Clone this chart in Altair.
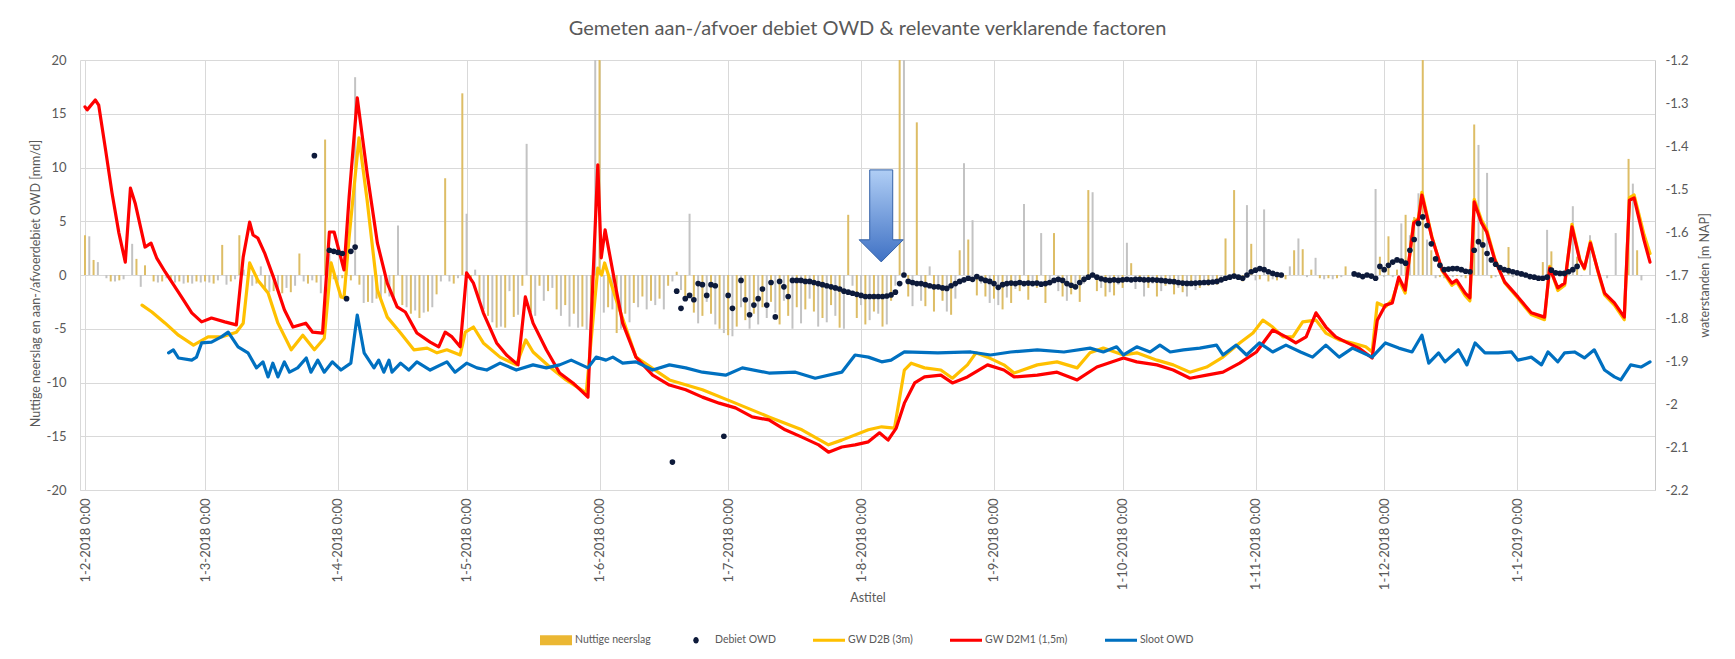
import altair as alt
import pandas as pd

TITLE = "Gemeten aan-/afvoer debiet OWD & relevante verklarende factoren"
LEFT_TITLE = "Nuttige neerslag en aan-/afvoerdebiet OWD [mm/d]"
RIGHT_TITLE = "waterstanden [m NAP]"
X_TITLE = "Astitel"
SERIES = ["Nuttige neerslag", "Debiet OWD", "GW D2B (3m)", "GW D2M1 (1,5m)", "Sloot OWD"]
START = "2018-02-01"

# Nuttige neerslag [mm/d], one value per day, per month (Feb 2018 .. Jan 2019)
FEB = [3.7, 3.6, 1.4, 1.2, 0.0, -0.3, -0.6, -0.6, -0.5, -0.4, 0.0, 2.9, 1.5, -1.1, 0.9, 0.0, -0.6, -0.7, -0.6, -0.3,
       -0.5, -0.7, -0.6, -0.8, -0.7, -0.8, -0.6, -0.7]
MAR = [-0.6, -0.7, -0.8, -0.5, 2.8, -0.9, -0.6, -0.4, 3.7, 0.5, -0.6, -1.0, -0.8, 0.8, -1.2, -1.6, -1.5, -1.4, -1.7, -1.2,
       -1.6, -1.0, 2.0, -0.6, -0.8, -0.5, -0.7, -1.7, 12.6, 2.0, -0.4]
APR = [-0.5, -0.3, 0.4, -0.5, 18.4, -0.9, -2.6, -2.5, -2.6, -2.2, -2.3, -1.7, -2.0, -2.4, 4.6, -2.8, -3.0, -3.6, -3.3, -4.0,
       -3.5, -3.4, -3.0, -1.8, -0.6, 9.0, -0.6, -0.8, -0.3, 16.9]
MAY = [5.7, -0.4, 0.5, -2.6, -3.2, -3.8, -4.4, -4.9, -4.8, -4.9, -1.5, -3.9, -3.7, -1.0, 12.2, -3.5, -3.8, -1.0, -2.4, -1.5,
       -1.2, -3.2, -3.8, -2.8, -4.8, -3.6, -4.9, -4.8, -5.1, -3.5, 25.0]
JUN = [25.0, -3.5, -3.0, -3.2, -5.4, -5.0, -3.6, -4.4, -2.6, -3.0, -2.0, -3.2, -2.4, -2.8, -2.2, -3.2, -1.0, -0.6, 0.3, -1.4,
       -2.0, 5.7, -3.5, -4.5, -3.8, -2.5, -3.6, -4.6, -5.0, -5.4]
JUL = [-5.6, -5.7, -4.8, -3.0, -4.2, -5.0, -3.6, -4.6, -3.0, -4.0, -2.5, -3.5, -4.6, -2.4, -3.8, -5.0, -3.0, -4.5, -3.2, -2.2,
       -3.4, -4.8, -4.0, -4.4, -2.8, -3.8, -4.9, -5.0, 5.6, -1.0, -4.0]
AUG = [-2.8, -4.6, -4.2, -3.4, -3.6, -4.8, -4.6, -2.4, -1.0, 25.0, 25.0, -2.0, -2.9, 14.2, -2.4, -2.9, 0.8, -3.4, -1.2, -2.4,
       -3.4, -3.7, -2.2, 2.3, 10.4, 3.3, 5.1, -1.9, -0.8, -2.0, -2.6]
SEP = [-2.2, -2.8, -3.2, -2.1, -2.6, -1.3, -1.5, 6.6, -2.3, -0.8, -1.2, 3.9, -2.6, -1.0, 3.9, -1.5, -2.0, -2.4, -1.8, -1.2,
       -2.5, -0.8, 7.9, 7.7, -1.5, -1.2, -2.0, -1.6, -1.9, -0.9]
OCT = [-1.2, 3.0, 1.1, -1.3, -0.6, -2.0, -1.2, -0.8, -2.0, -1.5, -1.0, -0.8, -1.8, -1.2, -1.6, -2.0, -1.0, -1.4, -1.2, -0.8,
       -1.0, -0.6, -0.9, -0.5, 3.4, -0.3, 7.9, -0.4, -0.6, 6.5, 2.9]
NOV = [-0.5, -0.4, 6.1, -0.6, -0.4, -0.5, -0.3, -0.4, 0.8, 2.3, 3.4, 2.4, -0.2, 0.5, 1.6, -0.3, -0.4, -0.3, -0.4, -0.3,
       -0.2, 0.8, 0.0, -0.1, 0.0, 0.0, 0.0, -0.1, 8.0, 1.7]
DEC = [-0.2, 3.6, -0.2, 0.5, 4.8, 5.6, 3.7, 5.4, 7.6, 25.0, 3.3, 2.3, -0.3, -0.2, -0.3, 0.0, -0.2, -0.1, -0.2, -0.3,
       0.0, 14.0, 12.1, 4.8, 9.5, -0.3, -0.2, 0.0, -0.1, 2.6, -0.2]
JAN = [0.0, -0.1, 0.0, -0.2, 0.0, 0.0, 1.2, 4.2, 2.2, 0.0, -0.1, 0.0, 0.0, 6.4, 1.7, -0.1, 0.0, 3.7, 0.0, 0.0,
       0.0, -0.3, 0.0, 3.9, 0.0, 0.0, 10.8, 8.5, 2.3, -0.5, 0.0]

# Debiet OWD [mm/d]: (day since 1-2-2018, value)
DEBIET = [(53.5, 11.1), (57, 2.3), (58, 2.2), (59, 2.1), (60, 2.0), (61, -2.2), (62, 2.2), (63, 2.6),
          (137, -17.4), (138, -1.5), (139, -3.1), (140, -2.2), (141, -1.9), (142, -2.3), (143, -0.8), (144, -0.9),
          (145, -1.9), (146, -0.9), (147, -1.0), (149, -15.0), (150, -1.9), (151, -3.1), (153, -0.5), (154, -2.3),
          (155, -3.7), (156, -2.8), (157, -2.2), (158, -1.3), (159, -2.8), (160, -0.7), (161, -3.9), (162, -0.6),
          (163, -1.1), (164, -2.0), (165, -0.5), (166, -0.5), (167, -0.5), (168, -0.6), (169, -0.6), (170, -0.7),
          (171, -0.8), (172, -0.9), (173, -1.0), (174, -1.1), (175, -1.2), (176, -1.3), (177, -1.5), (178, -1.6),
          (179, -1.7), (180, -1.8), (181, -1.9), (182, -2.0), (183, -2.0), (184, -2.0), (185, -2.0), (186, -2.0),
          (187, -1.95), (188, -1.85), (189, -1.6), (190, -0.8), (191, 0.0), (192, -0.6), (193, -0.7), (194, -0.8),
          (195, -0.8), (196, -0.9), (197, -1.0), (198, -1.1), (199, -1.1), (200, -1.2), (201, -1.25), (202, -1.0),
          (203, -0.8), (204, -0.6), (205, -0.45), (206, -0.3), (207, -0.4), (208, -0.15), (209, -0.35), (210, -0.5),
          (211, -0.6), (212, -0.8), (213, -1.15), (214, -0.9), (215, -0.8), (216, -0.75), (217, -0.8), (218, -0.7),
          (219, -0.8), (220, -0.75), (221, -0.8), (222, -0.75), (223, -0.85), (224, -0.8), (225, -0.7), (226, -0.5),
          (227, -0.4), (228, -0.5), (229, -0.8), (230, -0.95), (231, -1.1), (232, -0.7), (233, -0.4), (234, -0.2),
          (235, 0.0), (236, -0.2), (237, -0.35), (238, -0.45), (239, -0.5), (240, -0.45), (241, -0.5), (242, -0.45),
          (243, -0.4), (244, -0.45), (245, -0.4), (246, -0.4), (247, -0.45), (248, -0.45), (249, -0.45), (250, -0.47),
          (251, -0.5), (252, -0.55), (253, -0.6), (254, -0.62), (255, -0.7), (256, -0.75), (257, -0.78), (258, -0.78),
          (259, -0.75), (260, -0.72), (261, -0.7), (262, -0.68), (263, -0.65), (264, -0.6), (265, -0.45), (266, -0.3),
          (267, -0.2), (268, -0.1), (269, -0.2), (270, -0.3), (271, 0.0), (272, 0.3), (273, 0.45), (274, 0.6),
          (275, 0.5), (276, 0.3), (277, 0.15), (278, 0.05), (279, 0.0),
          (296, 0.1), (297, 0.0), (298, -0.15), (299, 0.0), (300, -0.1), (301, -0.3), (302, 0.8), (303, 0.5),
          (304, 0.9), (305, 1.2), (306, 1.4), (307, 1.3), (308, 1.1), (309, 2.3), (310, 3.3), (311, 4.8), (312, 5.4),
          (313, 4.6), (314, 2.9), (315, 1.5), (316, 0.9), (317, 0.5), (318, 0.55), (319, 0.6), (320, 0.6), (321, 0.5),
          (322, 0.35), (323, 0.3), (324, 2.3), (325, 3.1), (326, 2.8), (327, 2.0), (328, 1.4), (329, 1.0), (330, 0.7),
          (331, 0.5), (332, 0.4), (333, 0.3), (334, 0.2), (335, 0.1), (336, 0.0), (337, -0.15), (338, -0.2),
          (339, -0.3), (340, -0.3), (341, -0.2), (342, 0.45), (343, 0.2), (344, 0.15), (345, 0.15), (346, 0.3),
          (347, 0.5), (348, 0.8)]

# Groundwater / ditch levels [m NAP]: (day since 1-2-2018, value)
GW_D2M1 = [(0, -1.309), (0.5, -1.316), (2.4, -1.293), (3.2, -1.305), (4.8, -1.409), (6.3, -1.509), (7.9, -1.602),
           (9.4, -1.670), (10.6, -1.498), (11.7, -1.533), (14.0, -1.635), (15.4, -1.626), (16.7, -1.660),
           (18.7, -1.693), (22.5, -1.751), (24.9, -1.788), (27.2, -1.809), (29.5, -1.800), (32.6, -1.809),
           (35.3, -1.816), (36.9, -1.658), (38.4, -1.577), (39.2, -1.607), (40.3, -1.614), (41.9, -1.649),
           (44.2, -1.712), (46.5, -1.781), (48.5, -1.821), (51.5, -1.812), (53.1, -1.833), (55.4, -1.835),
           (57.0, -1.600), (58.1, -1.600), (60.4, -1.688), (61.6, -1.519), (63.5, -1.288), (65.8, -1.463),
           (68.2, -1.626), (70.5, -1.719), (72.8, -1.774), (74.7, -1.786), (77.4, -1.835), (80.5, -1.856),
           (82.5, -1.867), (84.0, -1.833), (85.6, -1.844), (87.5, -1.867), (89.0, -1.695), (90.6, -1.719),
           (92.9, -1.788), (96.0, -1.858), (98.3, -1.886), (101.0, -1.909), (102.7, -1.751), (104.5, -1.812),
           (107.6, -1.874), (110.7, -1.928), (113.8, -1.951), (117.3, -1.984), (119.6, -1.444), (120.4, -1.660),
           (121.3, -1.595), (123.9, -1.735), (125.4, -1.812), (128.5, -1.891), (132.4, -1.933), (136.3, -1.956),
           (140.1, -1.967), (144.0, -1.984), (147.9, -1.998), (151.7, -2.009), (155.6, -2.030), (159.5, -2.037),
           (163.3, -2.060), (167.2, -2.077), (171.1, -2.095), (173.4, -2.112), (176.5, -2.100), (179.6, -2.095),
           (182.7, -2.088), (185.3, -2.067), (187.3, -2.084), (189.2, -2.056), (191.1, -1.998), (193.5, -1.951),
           (195.8, -1.937), (199.6, -1.933), (202.3, -1.951), (205.8, -1.937), (210.5, -1.909), (214.3, -1.921),
           (216.7, -1.937), (222.1, -1.933), (226.7, -1.926), (231.4, -1.944), (236.0, -1.914), (242.2, -1.893),
           (245.3, -1.902), (250.0, -1.909), (253.8, -1.921), (257.7, -1.940), (261.6, -1.933), (265.4, -1.926),
           (269.3, -1.905), (273.2, -1.879), (277.0, -1.828), (280.1, -1.844), (282.4, -1.858), (284.8, -1.844),
           (287.1, -1.788), (289.4, -1.821), (291.7, -1.844), (294.1, -1.856), (297.1, -1.870), (300.2, -1.893),
           (301.4, -1.805), (303.3, -1.770), (304.9, -1.765), (306.4, -1.705), (307.9, -1.735), (309.9, -1.579),
           (311.0, -1.572), (311.8, -1.514), (314.1, -1.612), (316.5, -1.688), (318.8, -1.719), (319.9, -1.712),
           (321.9, -1.742), (323.0, -1.753), (324.0, -1.530), (325.7, -1.579), (326.9, -1.600), (328.8, -1.665),
           (331.1, -1.716), (334.2, -1.751), (337.3, -1.788), (340.4, -1.798), (341.6, -1.684), (343.5, -1.730),
           (345.1, -1.719), (346.8, -1.588), (348.6, -1.665), (349.7, -1.684), (351.1, -1.626), (352.8, -1.688),
           (354.4, -1.742), (356.7, -1.765), (359.0, -1.798), (360.2, -1.526), (361.3, -1.521), (363.6, -1.619),
           (365.0, -1.670)]

GW_D2B = [(13.3, -1.770), (15.6, -1.786), (18.7, -1.812), (21.8, -1.840), (25.3, -1.863), (28.7, -1.844),
          (31.8, -1.844), (35.3, -1.833), (36.9, -1.812), (38.4, -1.672), (40.3, -1.712), (42.7, -1.742),
          (45.0, -1.812), (48.1, -1.874), (50.8, -1.840), (53.5, -1.874), (55.8, -1.847), (57.4, -1.672),
          (59.7, -1.751), (60.4, -1.753), (61.6, -1.612), (63.9, -1.381), (65.8, -1.526), (68.2, -1.735),
          (70.5, -1.798), (73.6, -1.835), (76.7, -1.874), (79.8, -1.870), (82.1, -1.881), (84.4, -1.874),
          (87.5, -1.886), (88.7, -1.833), (90.6, -1.821), (92.9, -1.858), (96.8, -1.891), (100.6, -1.909),
          (102.8, -1.851), (104.5, -1.879), (108.4, -1.914), (112.2, -1.944), (116.9, -1.974), (119.6, -1.684),
          (120.5, -1.700), (121.2, -1.672), (123.9, -1.758), (128.5, -1.891), (136.3, -1.944), (144.0, -1.967),
          (151.7, -1.998), (159.5, -2.030), (167.2, -2.060), (173.4, -2.095), (176.5, -2.084), (182.7, -2.060),
          (185.8, -2.053), (188.8, -2.056), (191.1, -1.921), (192.7, -1.905), (195.8, -1.916), (199.6, -1.921),
          (202.3, -1.940), (205.8, -1.909), (207.8, -1.881), (210.5, -1.891), (214.3, -1.909), (216.7, -1.928),
          (222.1, -1.909), (226.7, -1.902), (231.4, -1.916), (234.4, -1.881), (237.5, -1.870), (242.2, -1.886),
          (245.3, -1.881), (250.0, -1.898), (253.8, -1.909), (257.7, -1.926), (261.6, -1.914), (265.4, -1.891),
          (269.3, -1.858), (272.4, -1.835), (274.7, -1.805), (277.0, -1.821), (279.4, -1.844), (281.7, -1.844),
          (284.0, -1.809), (287.1, -1.805), (289.4, -1.835), (292.5, -1.851), (295.6, -1.858), (298.7, -1.867),
          (300.2, -1.879), (301.4, -1.765), (303.3, -1.774), (304.9, -1.758), (306.4, -1.712), (307.9, -1.742),
          (309.9, -1.575), (311.0, -1.568), (311.8, -1.508), (314.1, -1.610), (316.5, -1.690), (318.8, -1.724),
          (319.9, -1.716), (321.9, -1.748), (323.0, -1.760), (324.0, -1.524), (325.7, -1.572), (326.9, -1.594),
          (328.8, -1.662), (331.1, -1.718), (334.2, -1.754), (337.3, -1.792), (340.4, -1.804), (341.6, -1.680),
          (343.5, -1.736), (345.1, -1.724), (346.8, -1.582), (348.6, -1.662), (349.7, -1.686), (351.1, -1.622),
          (352.8, -1.690), (354.4, -1.746), (356.7, -1.770), (359.0, -1.804), (360.2, -1.520), (361.3, -1.514),
          (363.6, -1.606), (365.0, -1.650)]

SLOOT = [(19.5, -1.881), (20.6, -1.874), (21.8, -1.893), (24.9, -1.898), (26.0, -1.891), (27.2, -1.858),
         (29.5, -1.856), (31.8, -1.844), (33.4, -1.833), (35.7, -1.867), (38.0, -1.881), (40.0, -1.916),
         (41.5, -1.902), (42.7, -1.937), (43.8, -1.905), (45.0, -1.937), (46.5, -1.902), (47.7, -1.926),
         (49.6, -1.916), (51.6, -1.893), (52.7, -1.926), (54.3, -1.898), (55.8, -1.926), (57.7, -1.902),
         (59.7, -1.921), (62.0, -1.905), (63.5, -1.793), (65.1, -1.881), (67.4, -1.916), (68.5, -1.898),
         (69.7, -1.926), (70.9, -1.898), (71.6, -1.926), (73.6, -1.905), (75.5, -1.921), (77.4, -1.902),
         (80.5, -1.921), (84.4, -1.902), (86.3, -1.926), (89.0, -1.905), (91.4, -1.916), (93.7, -1.921),
         (96.8, -1.905), (100.6, -1.921), (104.5, -1.909), (107.6, -1.916), (110.7, -1.909), (113.4, -1.898),
         (117.3, -1.916), (119.2, -1.891), (121.5, -1.898), (123.1, -1.891), (125.4, -1.905), (128.5, -1.902),
         (132.4, -1.921), (136.3, -1.909), (140.1, -1.916), (144.0, -1.926), (149.4, -1.933), (153.3, -1.916),
         (159.5, -1.928), (165.7, -1.926), (170.3, -1.940), (176.5, -1.926), (179.6, -1.886), (182.7, -1.891),
         (185.8, -1.902), (188.0, -1.898), (191.1, -1.879), (198.9, -1.881), (206.6, -1.879), (211.2, -1.886),
         (215.9, -1.879), (222.1, -1.874), (228.3, -1.879), (234.4, -1.870), (237.5, -1.879), (240.6, -1.867),
         (242.2, -1.886), (245.3, -1.867), (248.4, -1.879), (250.7, -1.863), (253.1, -1.879), (256.2, -1.874),
         (260.0, -1.870), (263.9, -1.863), (265.4, -1.886), (268.5, -1.863), (270.9, -1.886), (273.9, -1.858),
         (277.0, -1.879), (280.1, -1.863), (283.5, -1.879), (286.3, -1.891), (289.4, -1.863), (292.5, -1.891),
         (295.6, -1.870), (300.2, -1.891), (303.3, -1.858), (306.4, -1.870), (309.5, -1.879), (311.8, -1.840),
         (313.4, -1.905), (315.7, -1.881), (317.2, -1.902), (320.3, -1.874), (322.3, -1.909), (324.2, -1.858),
         (326.5, -1.881), (329.6, -1.881), (332.7, -1.879), (334.2, -1.898), (337.3, -1.891), (339.7, -1.909),
         (341.2, -1.879), (343.5, -1.902), (345.1, -1.881), (347.4, -1.879), (349.7, -1.893), (352.0, -1.874),
         (354.4, -1.921), (356.7, -1.937), (358.2, -1.944), (360.5, -1.909), (362.9, -1.914), (365.0, -1.902)]

# Annotation arrow position (day, mm/d)
ARROW = [(185.7, 5.5)]

LEFT_TICKS = [-20, -15, -10, -5, 0, 5, 10, 15, 20]
RIGHT_TICKS = [-2.2, -2.1, -2.0, -1.9, -1.8, -1.7, -1.6, -1.5, -1.4, -1.3, -1.2]
MONTH_TICKS = [(2018, 2), (2018, 3), (2018, 4), (2018, 5), (2018, 6), (2018, 7), (2018, 8), (2018, 9),
               (2018, 10), (2018, 11), (2018, 12), (2019, 1)]

# ---- styling
FONT = "Lato"
TXT = "#595959"
GRID = "#D9D9D9"
C_BAR = "#DDBD66"
C_BAR2 = "#C3C3C3"
C_LEG_BAR = "#EBB733"
C_DOT = "#0D1A3A"
C_YEL = "#FFC000"
C_RED = "#FF0000"
C_BLUE = "#0070C0"
W, H = 1575, 430

base = pd.Timestamp(START)


def frame(pairs):
    df = pd.DataFrame(pairs, columns=["d", "v"])
    df["date"] = base + pd.to_timedelta(df["d"], unit="D")
    return df


bar_vals = FEB + MAR + APR + MAY + JUN + JUL + AUG + SEP + OCT + NOV + DEC + JAN
bars = frame(list(enumerate(bar_vals)))
bars["kind"] = ["gold" if i % 2 == 0 else "gray" for i in range(len(bars))]
bars = bars[bars["v"] != 0]

xs = alt.Scale(domain=[alt.DateTime(year=2018, month=2, date=1), alt.DateTime(year=2019, month=2, date=1)])
x_axis = alt.Axis(
    values=[alt.DateTime(year=y, month=m, date=1) for y, m in MONTH_TICKS],
    labelExpr="timeFormat(datum.value, '%-d-%-m-%Y') + ' 0:00'",
    labelAngle=-90, labelFontSize=13, labelColor=TXT, labelFont=FONT, labelPadding=8,
    tickSize=0, grid=True, gridColor=GRID, domainColor=GRID,
    titleFontSize=12.5, titleColor=TXT, titleFont=FONT, titleFontWeight="normal", titlePadding=2,
)
X = alt.X("date:T", scale=xs, axis=x_axis, title=X_TITLE)

left_scale = alt.Scale(domain=[-20, 20], clamp=True)
right_scale = alt.Scale(domain=[-2.2, -1.2])

left_axis = alt.Axis(
    values=LEFT_TICKS, labelExpr="'' + datum.value", grid=True, gridColor=GRID, domainColor=GRID,
    tickSize=0, labelPadding=14, labelFontSize=13, labelColor=TXT, labelFont=FONT,
    titleFontSize=12.5, titleColor=TXT, titleFont=FONT, titleFontWeight="normal",
    titleAngle=270, titleX=-45, titleY=H / 2 + 8, titleAlign="center", titleBaseline="middle",
)
right_axis = alt.Axis(
    orient="right", values=RIGHT_TICKS, labelExpr="'' + datum.value", grid=False, domainColor="#C8C8C8",
    tickSize=0, labelPadding=10, labelFontSize=13, labelColor=TXT, labelFont=FONT,
    titleFontSize=12.5, titleColor=TXT, titleFont=FONT, titleFontWeight="normal",
    titleAngle=270, titleX=49, titleY=H / 2, titleAlign="center", titleBaseline="middle",
)

gold = alt.Chart(bars[bars["kind"] == "gold"]).mark_bar(size=2, color=C_BAR).encode(
    x=X, y=alt.Y("v:Q", scale=left_scale, axis=left_axis, title=LEFT_TITLE)
)
gray = alt.Chart(bars[bars["kind"] == "gray"]).mark_bar(size=2, color=C_BAR2).encode(
    x=X, y=alt.Y("v:Q", scale=left_scale, axis=None)
)


def line(pairs, color, axis):
    return alt.Chart(frame(pairs)).mark_line(color=color, strokeWidth=3.2, strokeJoin="round", strokeCap="round").encode(
        x=X, y=alt.Y("v:Q", scale=right_scale, axis=axis, title=RIGHT_TITLE if axis is not None else None)
    )


yel = line(GW_D2B, C_YEL, right_axis)
red = line(GW_D2M1, C_RED, None)
blue = line(SLOOT, C_BLUE, None)

dots = alt.Chart(frame(DEBIET)).mark_circle(size=32, color=C_DOT, opacity=1).encode(
    x=X, y=alt.Y("v:Q", scale=left_scale, axis=None)
)

ARROW_PATH = "M-0.25,-1L0.25,-1L0.25,0.52L0.48,0.52L0,1L-0.48,0.52L-0.25,0.52Z"
arrow = alt.Chart(frame(ARROW)).mark_point(
    shape=ARROW_PATH, size=8464, filled=True, opacity=1,
    fill={"gradient": "linear", "x1": 0, "y1": 0, "x2": 0, "y2": 1,
          "stops": [{"offset": 0, "color": "#B0CEF5"}, {"offset": 1, "color": "#3F71C4"}]},
    stroke="#3462A8", strokeWidth=1,
).encode(x=X, y=alt.Y("v:Q", scale=left_scale, axis=None))

SHAPES = [
    "M-2,-0.625H2V0.625H-2Z",
    "M0.34,0A0.34,0.42,0,1,1,-0.34,0A0.34,0.42,0,1,1,0.34,0Z",
    "M-2,-0.19H2V0.19H-2Z",
    "M-2,-0.19H2V0.19H-2Z",
    "M-2,-0.19H2V0.19H-2Z",
]
LEG_COLORS = [C_LEG_BAR, C_DOT, C_YEL, C_RED, C_BLUE]
leg = alt.Legend(
    orient="none", legendX=468, legendY=572, direction="horizontal", title=None,
    symbolSize=256, symbolStrokeWidth=0, symbolOpacity=1, labelOffset=11, columnPadding=37,
    labelFontSize=10.5, labelColor=TXT, labelFont=FONT,
)
legend_layer = alt.Chart(pd.DataFrame({"series": SERIES})).mark_point(filled=True, opacity=0).encode(
    color=alt.Color("series:N", scale=alt.Scale(domain=SERIES, range=LEG_COLORS), legend=leg),
    shape=alt.Shape("series:N", scale=alt.Scale(domain=SERIES, range=SHAPES), legend=leg),
)

chart = alt.layer(gold, gray, yel, red, blue, dots, arrow, legend_layer).resolve_scale(
    y="independent"
).properties(
    width=W, height=H,
    autosize=alt.AutoSizeParams(type="none"),
    padding={"left": 72, "top": 52, "right": 72, "bottom": 158},
    title=alt.TitleParams(TITLE, fontSize=20, font=FONT, color=TXT, fontWeight="normal", offset=15, anchor="middle"),
    background="white",
).configure_view(stroke=None)

chart.save("out.html", embed_options={"renderer": "svg", "actions": False})
